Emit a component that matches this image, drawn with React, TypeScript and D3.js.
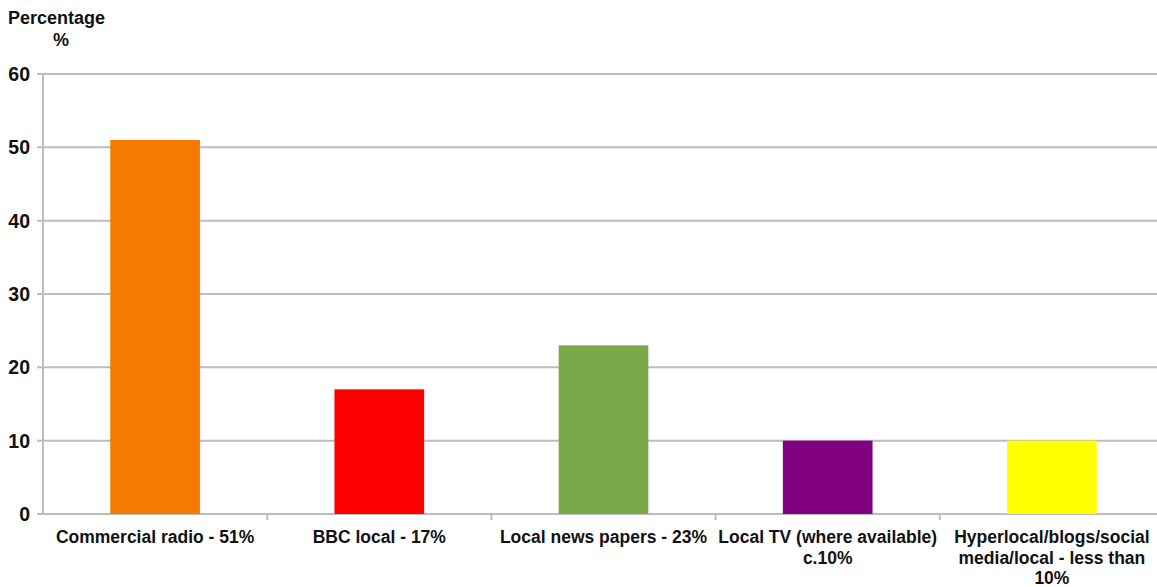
import React from "react";
import * as d3 from "d3";

const categories: string[][] = [
  ["Commercial radio - 51%"],
  ["BBC local - 17%"],
  ["Local news papers - 23%"],
  ["Local TV (where available)", "c.10%"],
  ["Hyperlocal/blogs/social", "media/local - less than", "10%"],
];
const values: number[] = [51, 17, 23, 10, 10];
const colors: string[] = ["#F77A00", "#FF0000", "#7BA84A", "#800080", "#FFFF00"];
const yTicks: number[] = [0, 10, 20, 30, 40, 50, 60];

const W = 1157;
const H = 587;
const left = 43;
const right = 1164;
const top = 74;
const bottom = 514;

export default function App() {
  const x = d3
    .scaleBand<number>()
    .domain(values.map((_, i) => i))
    .range([left, right])
    .paddingInner(0.6)
    .paddingOuter(0.3);
  const step = x.step();
  const y = d3.scaleLinear().domain([0, 60]).range([bottom, top]);
  const font = "Liberation Sans, Arial, sans-serif";

  return (
    <svg
      width={W}
      height={H}
      style={{ position: "absolute", left: 0, top: 0, background: "#fff" }}
      fontFamily={font}
    >
      <text x={8} y={24} fontSize={18} fontWeight="bold" fill="#111">
        Percentage
      </text>
      <text x={53} y={46} fontSize={18} fontWeight="bold" fill="#111">
        %
      </text>
      {yTicks.map((t) => (
        <g key={t}>
          <line x1={37} x2={W} y1={y(t)} y2={y(t)} stroke="#bdbdbd" strokeWidth={2} />
          <text
            x={30}
            y={y(t)}
            dy="0.36em"
            textAnchor="end"
            fontSize={19.5}
            fontWeight="bold"
            fill="#111"
          >
            {t}
          </text>
        </g>
      ))}
      <line x1={left} x2={left} y1={top} y2={bottom} stroke="#bdbdbd" strokeWidth={2} />
      {values.map((_, i) =>
        i > 0 ? (
          <line
            key={"t" + i}
            x1={(x(i) as number) - (step - x.bandwidth()) / 2}
            x2={(x(i) as number) - (step - x.bandwidth()) / 2}
            y1={bottom}
            y2={bottom + 6}
            stroke="#bdbdbd"
            strokeWidth={2}
          />
        ) : null
      )}
      {values.map((v, i) => (
        <rect
          key={i}
          x={x(i)}
          y={y(v)}
          width={x.bandwidth()}
          height={y(0) - y(v)}
          fill={colors[i]}
        />
      ))}
      {categories.map((lines, i) => {
        const cx = (x(i) as number) + x.bandwidth() / 2;
        return (
          <text key={i} textAnchor="middle" fontSize={17.5} fontWeight="bold" fill="#111">
            {lines.map((l, j) => (
              <tspan key={j} x={cx} y={543 + j * 20.5}>
                {l}
              </tspan>
            ))}
          </text>
        );
      })}
    </svg>
  );
}
